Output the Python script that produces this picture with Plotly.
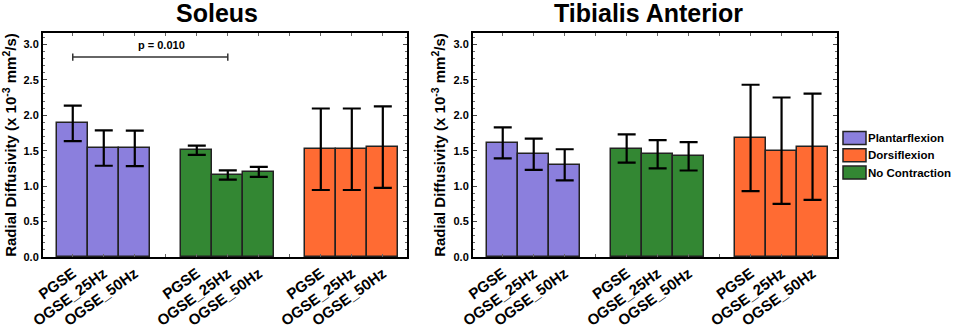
import plotly.graph_objects as go

# ---------------- data ----------------
methods = ["PGSE", "OGSE_25Hz", "OGSE_50Hz"]
conditions = ["Plantarflexion", "No Contraction", "Dorsiflexion"]
legend_order = ["Plantarflexion", "Dorsiflexion", "No Contraction"]
colors = {"Plantarflexion": "#8B7FDD", "No Contraction": "#338733", "Dorsiflexion": "#FF6B33"}
group_offsets = [0, 4, 8]

soleus_plantar = [1.886, 1.537, 1.533]
soleus_plantar_err = [0.25, 0.25, 0.25]
soleus_nocon = [1.505, 1.157, 1.200]
soleus_nocon_err = [0.065, 0.065, 0.07]
soleus_dorsi = [1.52, 1.52, 1.55]
soleus_dorsi_err = [0.575, 0.575, 0.575]

ta_plantar = [1.61, 1.45, 1.30]
ta_plantar_err = [0.22, 0.22, 0.22]
ta_nocon = [1.53, 1.45, 1.42]
ta_nocon_err = [0.20, 0.20, 0.20]
ta_dorsi = [1.68, 1.50, 1.556]
ta_dorsi_err = [0.75, 0.75, 0.75]

soleus = {"Plantarflexion": (soleus_plantar, soleus_plantar_err),
          "No Contraction": (soleus_nocon, soleus_nocon_err),
          "Dorsiflexion": (soleus_dorsi, soleus_dorsi_err)}
ta = {"Plantarflexion": (ta_plantar, ta_plantar_err),
      "No Contraction": (ta_nocon, ta_nocon_err),
      "Dorsiflexion": (ta_dorsi, ta_dorsi_err)}

sig_x = [0, 5]
sig_y = 2.82
sig_text = "p = 0.010"

titles = ["Soleus", "Tibialis Anterior"]
ytitle = "Radial Diffusivity (x 10<sup>-3</sup> mm<sup>2</sup>/s)"

FONT = "Arial, Liberation Sans, sans-serif"

W, H = 957, 328


def px(x):
    return x / W


def py(y):
    return 1 - y / H


fig = go.Figure()

panels = [(soleus, "x", "y"), (ta, "x2", "y2")]
for pi, (data, xa, ya) in enumerate(panels):
    for gi, cond in enumerate(conditions):
        vals, errs = data[cond]
        xs = [group_offsets[gi] + i for i in range(len(vals))]
        fig.add_trace(go.Bar(
            x=xs, y=vals, width=1, xaxis=xa, yaxis=ya,
            name=cond, marker=dict(color=colors[cond], line=dict(color="#222222", width=1.5)),
            error_y=dict(type="data", array=errs, visible=True, color="black", thickness=2.2, width=9),
            showlegend=False, hoverinfo="skip",
        ))

tickvals = [g + i for g in group_offsets for i in range(len(methods))]
ticktext = [methods[i] for g in group_offsets for i in range(len(methods))]

xrange = [-0.96, 10.78]
axis_common = dict(showline=True, linecolor="black", linewidth=2, mirror="allticks",
                   showgrid=False, zeroline=False, automargin=False)
for xa, dom in (("xaxis", [px(43), px(407)]), ("xaxis2", [px(473), px(836.7)])):
    fig.layout[xa] = dict(domain=dom, range=xrange, tickvals=tickvals, ticktext=ticktext,
                          tickangle=-36, ticks="inside", ticklen=3, tickcolor="#666666",
                          minor=dict(tick0=0, dtick=1, ticks="inside", ticklen=3, tickcolor="#666666"),
                          tickfont=dict(family=FONT, size=15, color="black", weight="bold"),
                          anchor="y" if xa == "xaxis" else "y2", **axis_common)
ydom = [py(257), py(33)]
for ya, anchor in (("yaxis", "x"), ("yaxis2", "x2")):
    fig.layout[ya] = dict(domain=ydom, range=[0, 3.16], dtick=0.5, tickformat=".1f",
                          ticks="inside", ticklen=4, tickcolor="#444444",
                          minor=dict(dtick=0.1, ticks="inside", ticklen=2, tickcolor="#666666"),
                          tickfont=dict(family=FONT, size=11, color="black", weight="bold"),
                          anchor=anchor,
                          title=dict(text=ytitle, font=dict(family=FONT, size=15, color="black", weight="bold"),
                                     standoff=4),
                          **axis_common)

# significance bracket
fig.add_shape(type="line", xref="x", yref="y", x0=sig_x[0], x1=sig_x[1], y0=sig_y, y1=sig_y,
              line=dict(color="#333333", width=1.5))
for sx in sig_x:
    fig.add_shape(type="line", xref="x", yref="y", x0=sx, x1=sx, y0=sig_y - 0.05, y1=sig_y + 0.05,
                  line=dict(color="#333333", width=1.5))
fig.add_annotation(x=2.87, y=sig_y + 0.06, xref="x", yref="y", text=sig_text, showarrow=False,
                   yanchor="bottom", font=dict(family=FONT, size=11, color="black", weight="bold"))

# panel titles
for t, cx in zip(titles, [217, 648]):
    fig.add_annotation(x=px(cx), y=py(13), xref="paper", yref="paper", text=t, showarrow=False,
                       xanchor="center", yanchor="middle",
                       font=dict(family=FONT, size=25, color="black", weight="bold"))

# legend (drawn manually for wide swatches)
for i, cond in enumerate(legend_order):
    yc = 138 + i * 17.3
    fig.add_shape(type="rect", xref="paper", yref="paper",
                  x0=px(843), x1=px(866), y0=py(yc + 6.5), y1=py(yc - 6.5),
                  fillcolor=colors[cond], line=dict(color="#222222", width=1.5))
    fig.add_annotation(x=px(866), y=py(yc), xref="paper", yref="paper", text=cond,
                       showarrow=False, xanchor="left", yanchor="middle",
                       font=dict(family=FONT, size=11.5, color="black", weight="bold"))

fig.update_layout(
    width=W, height=H, margin=dict(l=0, r=0, t=0, b=0),
    plot_bgcolor="white", paper_bgcolor="white", barmode="overlay", bargap=0,
    showlegend=False,
)

fig.write_html("out.html", config={"displayModeBar": False},
               post_script="document.body.style.margin='0';")
